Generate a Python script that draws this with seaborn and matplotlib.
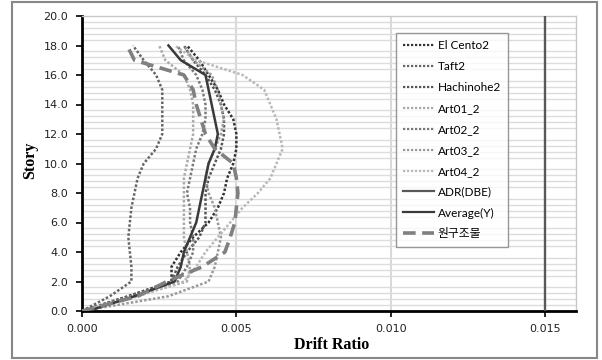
import numpy as np
import pandas as pd
import matplotlib
matplotlib.use("Agg")
import matplotlib.pyplot as plt
from matplotlib.patches import Rectangle
from matplotlib.lines import Line2D
from matplotlib.font_manager import FontProperties
import seaborn as sns

stories = list(range(0, 19))

el_cento2 = [0.0, 0.0015, 0.0029, 0.0029, 0.0032, 0.0036, 0.0041, 0.0044, 0.0046, 0.0047,
             0.0049, 0.0050, 0.0050, 0.0049, 0.0046, 0.0044, 0.0041, 0.0038, 0.0034]
taft2 = [0.0, 0.0009, 0.0016, 0.0016, 0.00155, 0.0015, 0.00155, 0.0016, 0.0017, 0.0018,
         0.0020, 0.0024, 0.0026, 0.0026, 0.0026, 0.0026, 0.0024, 0.0020, 0.00165]
hachinohe2 = [0.0, 0.0015, 0.0029, 0.0031, 0.0034, 0.0038, 0.0040, 0.0040, 0.0040, 0.0041,
              0.0043, 0.0045, 0.0046, 0.0046, 0.0045, 0.0043, 0.0040, 0.0036, 0.0033]
art01_2 = [0.0, 0.0017, 0.0034, 0.0035, 0.0034, 0.0033, 0.0033, 0.0033, 0.0033, 0.0033,
           0.0034, 0.0035, 0.0036, 0.0036, 0.0036, 0.0035, 0.0033, 0.0027, 0.0025]
art02_2 = [0.0, 0.0016, 0.0031, 0.0034, 0.0036, 0.0036, 0.0035, 0.0035, 0.0034, 0.0035,
           0.0036, 0.0037, 0.0039, 0.0040, 0.0040, 0.0039, 0.0037, 0.0033, 0.0031]
art03_2 = [0.0, 0.0028, 0.0041, 0.0043, 0.0044, 0.0045, 0.0044, 0.0043, 0.0041, 0.0040,
           0.0041, 0.0043, 0.0045, 0.0046, 0.0045, 0.0044, 0.0042, 0.0036, 0.0033]
art04_2 = [0.0, 0.0018, 0.0033, 0.0037, 0.0040, 0.0044, 0.0048, 0.0052, 0.0057, 0.0061,
           0.0063, 0.0065, 0.0064, 0.0063, 0.0061, 0.0059, 0.0052, 0.0037, 0.0030]
average_y = [0.0002, 0.0017, 0.0030, 0.0032, 0.0033, 0.0035, 0.0037, 0.0038, 0.0039, 0.0040,
             0.0041, 0.0043, 0.0044, 0.0043, 0.0042, 0.0041, 0.0040, 0.0032, 0.0028]
original = [0.0, 0.0018, 0.00275, 0.0039, 0.00463, 0.0048, 0.00495, 0.0050, 0.00505, 0.0050,
            0.0049, 0.0043, 0.0040, 0.00385, 0.0037, 0.0036, 0.0033, 0.0017, 0.00146]
adr_drift = [0.015, 0.015]
adr_story = [0, 20]

labels = ["El Cento2", "Taft2", "Hachinohe2", "Art01_2", "Art02_2", "Art03_2", "Art04_2",
          "ADR(DBE)", "Average(Y)", "원구조물"]

dotted = [("El Cento2", el_cento2, "#333333"),
          ("Taft2", taft2, "#666666"),
          ("Hachinohe2", hachinohe2, "#555555"),
          ("Art01_2", art01_2, "#aaaaaa"),
          ("Art02_2", art02_2, "#7a7a7a"),
          ("Art03_2", art03_2, "#999999"),
          ("Art04_2", art04_2, "#b8b8b8")]

fig = plt.figure(figsize=(6.02, 3.6), dpi=100)
ax = fig.add_axes([82/602, 1-311/360, (576-82)/602, (311-16)/360])


def draw(xv, yv, **kw):
    df = pd.DataFrame({"drift": xv, "story": yv})
    sns.lineplot(data=df, x="drift", y="story", sort=False, estimator=None, ax=ax, **kw)


handles = []
dot_ls = (0, (1, 0.8))
for name, vals, col in dotted:
    draw(vals, stories, color=col, lw=1.8, linestyle=dot_ls, zorder=3)
    handles.append(Line2D([], [], color=col, lw=1.6, linestyle=dot_ls))

draw(adr_drift, adr_story, color="#595959", lw=1.7, zorder=3)
handles.append(Line2D([], [], color="#595959", lw=1.6))

draw(average_y, stories, color="#3a3a3a", lw=1.8, zorder=4)
handles.append(Line2D([], [], color="#3a3a3a", lw=1.6))

dash_ls = (0, (3.5, 1.8))
draw(original, stories, color="#808080", lw=2.6, linestyle=dash_ls, zorder=4)
handles.append(Line2D([], [], color="#808080", lw=2.6, linestyle=dash_ls))

ax.set_xlim(0, 0.016)
ax.set_ylim(0, 20)
ax.set_xticks([0, 0.005, 0.010, 0.015])
ax.set_xticklabels(["0.000", "0.005", "0.010", "0.015"])
ax.set_yticks(np.arange(0, 20.1, 2))
ax.set_yticklabels([f"{v:.1f}" for v in np.arange(0, 20.1, 2)])
ax.set_yticks(np.arange(0, 20.01, 0.4), minor=True)
ax.tick_params(axis="y", which="minor", length=0)
ax.tick_params(axis="both", which="major", length=4, width=1.2, labelsize=8, color="black",
               labelcolor="#222222")
ax.tick_params(axis="y", pad=6)
ax.tick_params(axis="x", pad=5)
ax.grid(False)
ax.yaxis.grid(True, which="minor", color="#dcdcdc", lw=1.0, zorder=0)
for xv in [0.005, 0.010]:
    ax.axvline(xv, color="#d9d9d9", lw=1.5, zorder=1)

for s in ["left", "bottom"]:
    ax.spines[s].set_color("black")
    ax.spines[s].set_linewidth(2)
for s in ["top", "right"]:
    ax.spines[s].set_color("#c8c8c8")
    ax.spines[s].set_linewidth(1)

ax.set_xlabel("")
ax.set_ylabel("")
fig.text(30/602, 1-160/360, "Story", rotation=90, ha="center", va="center",
         family="Liberation Serif", weight="bold", fontsize=11.5)
fig.text(332/602, 1-345/360, "Drift Ratio", ha="center", va="center",
         family="Liberation Serif", weight="bold", fontsize=11.5)

prop = FontProperties(family=["Lato", "Noto Sans CJK KR"], size=8.5)
leg = ax.legend(handles, labels, loc="upper left", bbox_to_anchor=(0.636, 0.942),
                prop=prop, frameon=True, fancybox=False, edgecolor="#7f7f7f",
                handlelength=2.6, handletextpad=0.3, labelspacing=0.84, borderpad=0.6,
                borderaxespad=0)
leg.get_frame().set_linewidth(1.0)
leg.set_zorder(10)

fig.patches.append(Rectangle((12/602, 2/360), (597-12)/602, (358-2)/360, transform=fig.transFigure,
                             fill=False, edgecolor="#888888", lw=1.5))

fig.savefig("out.png", dpi=100)
